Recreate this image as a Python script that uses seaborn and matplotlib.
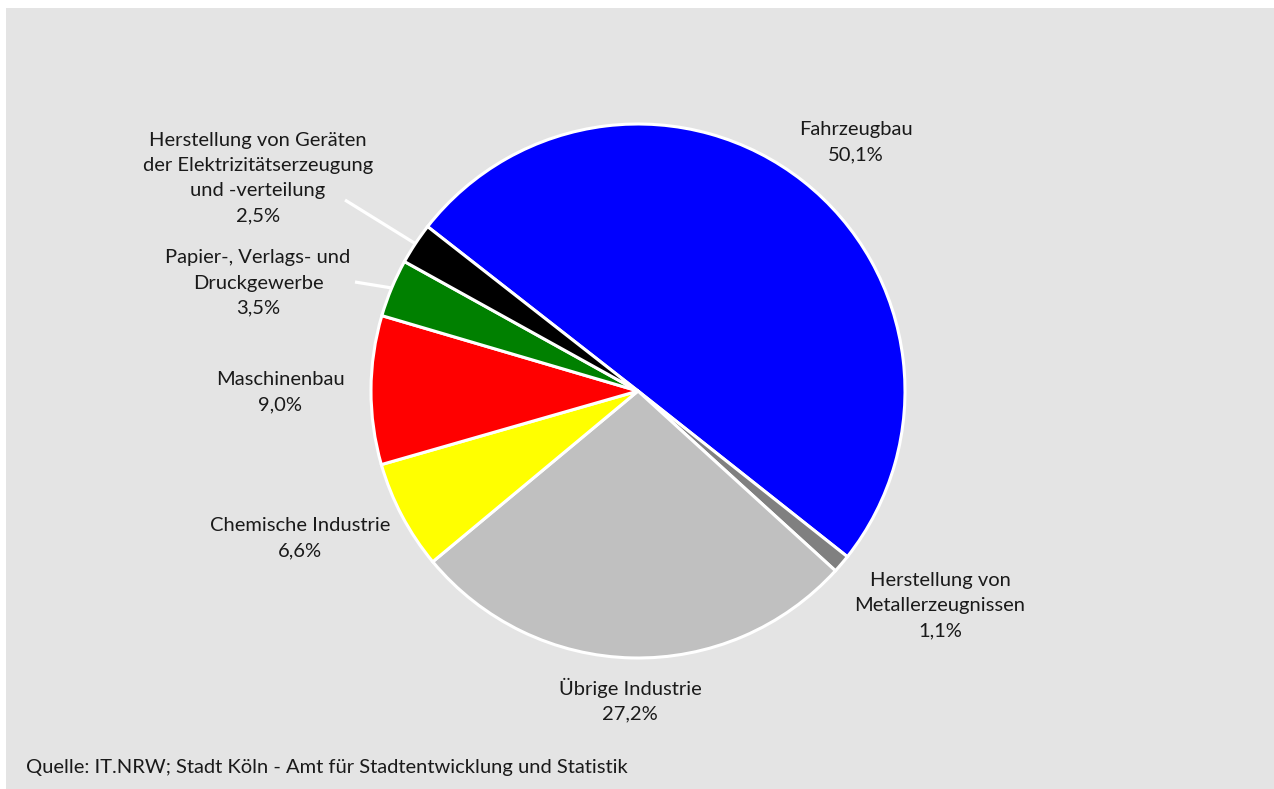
import numpy as np
import matplotlib
matplotlib.use("Agg")
import matplotlib.pyplot as plt
from matplotlib.patches import Rectangle
import seaborn as sns

# ---- data ----
categories = [
    "Fahrzeugbau",
    "Herstellung von\nMetallerzeugnissen",
    "Übrige Industrie",
    "Chemische Industrie",
    "Maschinenbau",
    "Papier-, Verlags- und\nDruckgewerbe",
    "Herstellung von Geräten\nder Elektrizitätserzeugung\nund -verteilung",
]
shares = [50.1, 1.1, 27.2, 6.6, 9.0, 3.5, 2.5]
colors = ["#0000ff", "#808080", "#c0c0c0", "#ffff00", "#ff0000", "#008000", "#000000"]
source = "Quelle: IT.NRW; Stadt Köln - Amt für Stadtentwicklung und Statistik"

# ---- layout (pixel coordinates, y from top) ----
W, H = 1274, 789
label_pos = [(856, 142), (940, 606), (630, 700), (300, 538), (280, 392), (258, 178 + 105), (258, 178)]
leader_start = {5: (355, 282), 6: (345, 200)}
center_px = (638, 391)
radius_px = 267
start_angle = 142

sns.set_theme(style="white")
plt.rcParams["font.family"] = ["Lato", "DejaVu Sans"]

fig = plt.figure(figsize=(W / 100, H / 100), dpi=100, facecolor="white")
fig.patches.append(Rectangle((6 / W, 0), 1 - 6 / W, (H - 8) / H, transform=fig.transFigure,
                             facecolor="#e4e4e4", edgecolor="none", zorder=-10))
ax = fig.add_axes([0, 0, 1, 1])
ax.set_zorder(1)
ax.set_facecolor("none")
ax.patch.set_alpha(0)
ax.axis("off")

cx, cy = center_px[0], H - center_px[1]
ax.pie(shares, colors=colors, startangle=start_angle, counterclock=False,
       center=(cx, cy), radius=radius_px,
       wedgeprops=dict(edgecolor="white", linewidth=2.2, antialiased=True))
ax.set_xlim(0, W)
ax.set_ylim(0, H)
ax.set_aspect("equal")

# labels
for cat, val, (lx, ly) in zip(categories, shares, label_pos):
    txt = f"{cat}\n{val:.1f}%".replace(".", ",")
    ax.text(lx, H - ly, txt, ha="center", va="center", fontsize=14.5,
            color="#1a1a1a", linespacing=1.58)

# leader lines
cum = np.cumsum([0] + shares)
for i, (sx, sy) in leader_start.items():
    mid = start_angle - (cum[i] + shares[i] / 2) / 100 * 360
    ex = cx + radius_px * np.cos(np.deg2rad(mid))
    ey = cy + radius_px * np.sin(np.deg2rad(mid))
    ax.plot([sx, ex], [H - sy, ey], color="white", lw=2.3, solid_capstyle="butt", zorder=5)

ax.text(26, H - 768, source, ha="left", va="center", fontsize=14.5, color="#1a1a1a")

fig.savefig("out.png", dpi=100, facecolor="white")
